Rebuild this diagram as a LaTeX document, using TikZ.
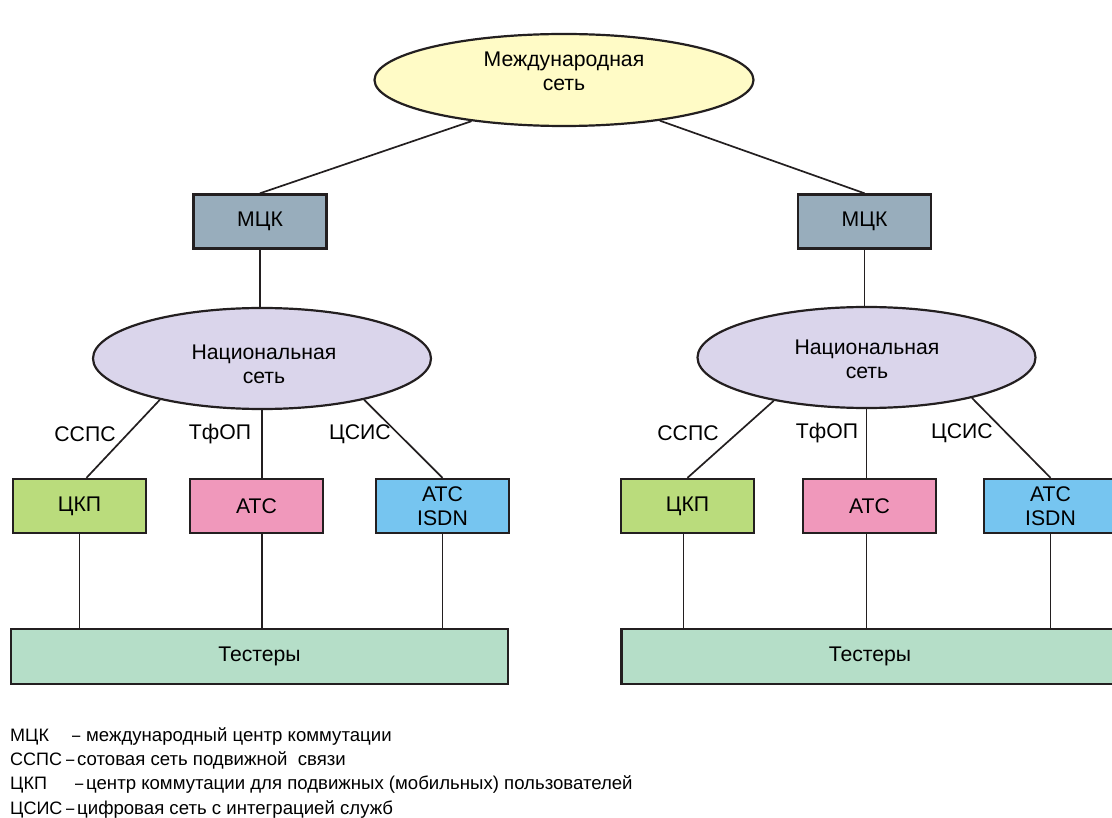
\documentclass[tikz,border=0pt]{standalone}
\usepackage{fontspec}
\setmainfont{Liberation Sans}
\usetikzlibrary{shapes.geometric}

\definecolor{inkline}{HTML}{231F20}
\definecolor{intlfill}{HTML}{FFFBC6}
\definecolor{mzkfill}{HTML}{98ADBC}
\definecolor{natfill}{HTML}{DAD5EB}
\definecolor{ckpfill}{HTML}{BADC7C}
\definecolor{atcfill}{HTML}{F098BB}
\definecolor{isdnfill}{HTML}{76C5F0}
\definecolor{testfill}{HTML}{B5DEC8}

\begin{document}
\begin{tikzpicture}[x=1pt, y=-1pt,
  every node/.style={font=\fontsize{21.2}{24}\selectfont, text=black},
  oval/.style={ellipse, draw=inkline, line width=2.2pt, inner sep=0pt},
  unit/.style={rectangle, draw=inkline, line width=2.4pt, inner sep=0pt,
    minimum width=133pt, minimum height=54pt, align=center},
  bench/.style={rectangle, draw=inkline, line width=2.4pt, inner sep=0pt,
    minimum width=497pt, minimum height=55pt},
  link/.style={draw=inkline, line width=1.7pt},
  tag/.style={inner sep=0pt},
  legend/.style={inner sep=0pt, anchor=base west, font=\fontsize{18.6}{22}\selectfont},
  abbr/.style={legend, font=\fontsize{18}{22}\selectfont},
]
\useasboundingbox (0,0) rectangle (1112,818);
\clip (0,0) rectangle (1112,818);

% international network
\node[oval, fill=intlfill, minimum width=379pt, minimum height=92pt] (intl) at (564,80) {};
\node[tag, align=center] at (564,71.5) {Международная\\сеть};

% international switching centres
\node[unit, fill=mzkfill] (mzkA) at (260,221.5) {МЦК};
\node[unit, fill=mzkfill] (mzkB) at (864.5,221.5) {МЦК};

% national networks
\node[oval, fill=natfill, minimum width=338pt, minimum height=101pt] (natA) at (262,358.5) {};
\node[tag, align=center] at (264,364) {Национальная\\сеть};
\node[oval, fill=natfill, minimum width=338pt, minimum height=101pt] (natB) at (866.5,357.5) {};
\node[tag, align=center] at (867,359.5) {Национальная\\сеть};

% exchanges, left
\node[unit, fill=ckpfill] (ckpA) at (79.5,506) {ЦКП};
\node[unit, fill=atcfill] (atcA) at (256.5,506) {АТС};
\node[unit, fill=isdnfill] (isdnA) at (442.5,506) {АТС\\ISDN};
% exchanges, right
\node[unit, fill=ckpfill] (ckpB) at (687.5,506) {ЦКП};
\node[unit, fill=atcfill] (atcB) at (869.5,506) {АТС};
\node[unit, fill=isdnfill] (isdnB) at (1050.5,506) {АТС\\ISDN};

% test equipment
\node[bench, fill=testfill] (testA) at (259.5,656.5) {Тестеры};
\node[bench, fill=testfill] (testB) at (870,656.5) {Тестеры};

% connections
\draw[link] (intl.204) -- (mzkA.north);
\draw[link] (intl.337) -- (mzkB.north);
\draw[link] (mzkA.south) -- (natA.north -| mzkA.south);
\draw[link] (mzkB.south) -- (natB.north -| mzkB.south);

\draw[link] (natA.202) -- ([xshift=7pt]ckpA.north);
\draw[link] (natA.south) -- (natA.south |- atcA.north);
\draw[link] (natA.338) -- (isdnA.north);
\draw[link] (natB.205) -- (ckpB.north);
\draw[link] (natB.south) -- (natB.south |- atcB.north);
\draw[link] (natB.339) -- (isdnB.north);

\draw[link] (ckpA.south) -- (ckpA.south |- testA.north);
\draw[link] (natA.south |- atcA.south) -- (natA.south |- testA.north);
\draw[link] (isdnA.south) -- (isdnA.south |- testA.north);
\draw[link] ([xshift=-4pt]ckpB.south) -- ([xshift=-4pt]ckpB.south |- testB.north);
\draw[link] (natB.south |- atcB.south) -- (natB.south |- testB.north);
\draw[link] (isdnB.south) -- (isdnB.south |- testB.north);

% link labels
\node[tag] at (85,434) {ССПС};
\node[tag] at (220,434) {ТфОП};
\node[tag] at (360,434) {ЦСИС};
\node[tag] at (688,433) {ССПС};
\node[tag] at (827,433) {ТфОП};
\node[tag] at (962,433) {ЦСИС};

% legend: abbreviation, dash, explanation
\node[abbr] at (10,741) {МЦК};
\node[legend] at (72,741) {\scalebox{0.8}[1]{–}};
\node[legend] at (86,741) {международный центр коммутации};
\node[abbr] at (10,765) {ССПС};
\node[legend] at (66,765) {\scalebox{0.8}[1]{–}};
\node[legend] at (77,765) {сотовая сеть подвижной\ \ связи};
\node[abbr] at (10,789) {ЦКП};
\node[legend] at (75,789) {\scalebox{0.8}[1]{–}};
\node[legend] at (86,789) {центр коммутации для подвижных (мобильных) пользователей};
\node[abbr] at (10,814) {ЦСИС};
\node[legend] at (66,814) {\scalebox{0.8}[1]{–}};
\node[legend] at (77,814) {цифровая сеть с интеграцией служб};
\end{tikzpicture}
\end{document}
